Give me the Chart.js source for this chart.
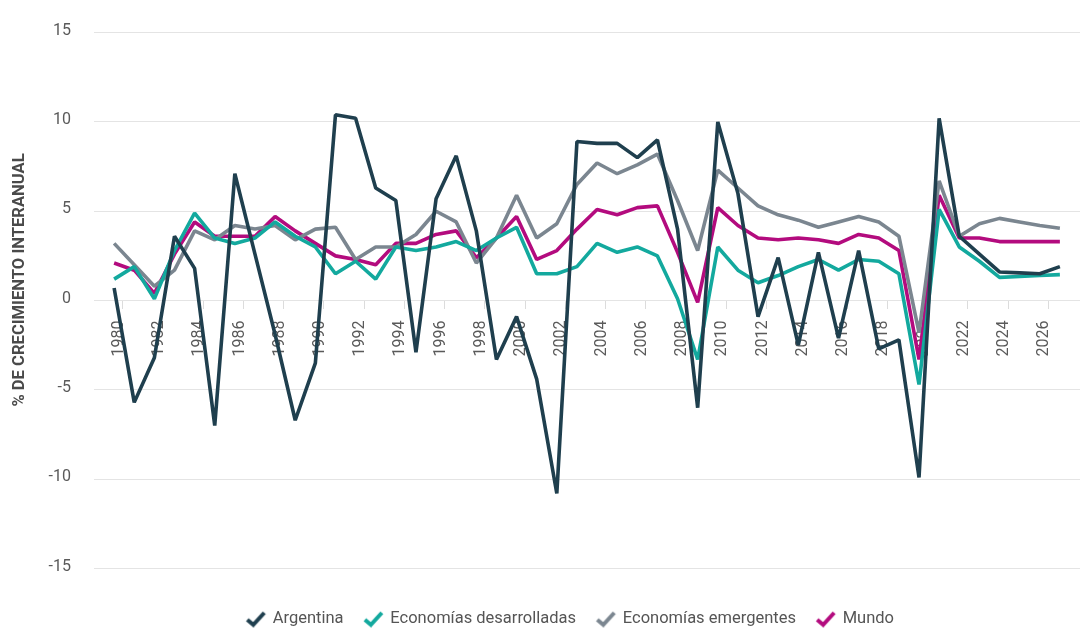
<!DOCTYPE html>
<html>
<head>
<meta charset="utf-8">
<script src="https://cdn.jsdelivr.net/npm/chart.js@4.4.1/dist/chart.umd.min.js"></script>
<style>
  html, body { margin: 0; padding: 0; background: #fff; }
  #wrap { width: 1083px; height: 628px; position: relative; }
</style>
</head>
<body>
<div id="wrap"><canvas id="chart"></canvas></div>
<script>
const years = [1980, 1981, 1982, 1983, 1984, 1985, 1986, 1987, 1988, 1989,
  1990, 1991, 1992, 1993, 1994, 1995, 1996, 1997, 1998, 1999,
  2000, 2001, 2002, 2003, 2004, 2005, 2006, 2007, 2008, 2009,
  2010, 2011, 2012, 2013, 2014, 2015, 2016, 2017, 2018, 2019,
  2020, 2021, 2022, 2023, 2024, 2025, 2026, 2027];

const tickYears = [1980, 1982, 1984, 1986, 1988, 1990, 1992, 1994, 1996, 1998,
  2000, 2002, 2004, 2006, 2008, 2010, 2012, 2014, 2016, 2018,
  2020, 2022, 2024, 2026];

const argentina = [0.7, -5.7, -3.2, 3.6, 1.8, -7.0, 7.1, 2.6, -1.9, -6.7,
  -3.5, 10.4, 10.2, 6.3, 5.6, -2.9, 5.7, 8.1, 3.9, -3.3,
  -0.9, -4.4, -10.8, 8.9, 8.8, 8.8, 8.0, 9.0, 4.0, -6.0,
  10.0, 6.0, -0.9, 2.4, -2.5, 2.7, -2.1, 2.8, -2.7, -2.2,
  -9.9, 10.2, 3.6, 2.6, 1.6, 1.55, 1.5, 1.9];

const desarrolladas = [1.2, 1.9, 0.1, 2.8, 4.9, 3.5, 3.2, 3.5, 4.4, 3.6,
  3.0, 1.5, 2.2, 1.2, 3.0, 2.8, 3.0, 3.3, 2.8, 3.5,
  4.1, 1.5, 1.5, 1.9, 3.2, 2.7, 3.0, 2.5, 0.1, -3.3,
  3.0, 1.7, 1.0, 1.4, 1.9, 2.3, 1.7, 2.3, 2.2, 1.5,
  -4.7, 5.1, 3.0, 2.2, 1.3, 1.35, 1.4, 1.45];

const emergentes = [3.2, 2.0, 0.8, 1.7, 3.9, 3.4, 4.2, 4.0, 4.2, 3.4,
  4.0, 4.1, 2.3, 3.0, 3.0, 3.7, 5.0, 4.4, 2.1, 3.5,
  5.9, 3.5, 4.3, 6.5, 7.7, 7.1, 7.6, 8.2, 5.6, 2.8,
  7.3, 6.3, 5.3, 4.8, 4.5, 4.1, 4.4, 4.7, 4.4, 3.6,
  -1.8, 6.7, 3.6, 4.3, 4.6, 4.4, 4.2, 4.05];

const mundo = [2.1, 1.7, 0.4, 2.6, 4.4, 3.6, 3.6, 3.6, 4.7, 3.9,
  3.2, 2.5, 2.3, 2.0, 3.2, 3.2, 3.7, 3.9, 2.4, 3.5,
  4.7, 2.3, 2.8, 4.0, 5.1, 4.8, 5.2, 5.3, 2.7, -0.1,
  5.2, 4.2, 3.5, 3.4, 3.5, 3.4, 3.2, 3.7, 3.5, 2.8,
  -3.3, 5.9, 3.5, 3.5, 3.3, 3.3, 3.3, 3.3];

const COLORS = {
  argentina: '#1f3f4e',
  desarrolladas: '#13a99e',
  emergentes: '#7b8690',
  mundo: '#b30b7e'
};

// little tick-shaped marker for the legend
function checkIcon(color) {
  const c = document.createElement('canvas');
  c.width = 22; c.height = 18;
  const g = c.getContext('2d');
  g.strokeStyle = color;
  g.lineWidth = 4;
  g.beginPath();
  g.moveTo(2, 10);
  g.lineTo(8, 15);
  g.lineTo(19, 3);
  g.stroke();
  return c;
}

function series(values) {
  return years.map((y, i) => ({ x: y, y: values[i] }));
}

function makeDataset(label, values, color) {
  return {
    label,
    data: series(values),
    borderColor: color,
    backgroundColor: color,
    borderWidth: 3.6,
    borderJoinStyle: 'bevel',
    pointRadius: 0,
    pointHoverRadius: 0,
    tension: 0,
    pointStyle: checkIcon(color)
  };
}

// nudge the legend down/right a bit, it sits lower than the default spot
const legendNudge = {
  id: 'legendNudge',
  afterLayout(chart) {
    const lg = chart.legend;
    if (!lg) return;
    lg.top += 20; lg.bottom += 20;
    lg.left += 31; lg.right += 31;
  }
};

const TICK_SHIFT = 0.43;
// the axis title sits a little above the middle of the plot
const yTitle = '\u00a0'.repeat(10) + '% DE CRECIMIENTO INTERANUAL';

new Chart(document.getElementById('chart'), {
  type: 'line',
  data: {
    datasets: [
      makeDataset('Argentina', argentina, COLORS.argentina),
      makeDataset('Economías desarrolladas', desarrolladas, COLORS.desarrolladas),
      makeDataset('Economías emergentes', emergentes, COLORS.emergentes),
      makeDataset('Mundo', mundo, COLORS.mundo)
    ]
  },
  plugins: [legendNudge],
  options: {
    responsive: true,
    maintainAspectRatio: false,
    animation: false,
    layout: { padding: { top: 12, right: 3, bottom: 11, left: 0 } },
    plugins: {
      tooltip: { enabled: false },
      legend: {
        position: 'bottom',
        labels: {
          usePointStyle: true,
          boxHeight: 18,
          padding: 22,
          color: '#555',
          font: { family: 'Roboto', size: 16.5 }
        }
      }
    },
    scales: {
      x: {
        type: 'linear',
        position: { y: 0 },
        min: 1979,
        max: 2028,
        afterBuildTicks: (scale) => {
          scale.ticks = tickYears.map(v => ({ value: v + TICK_SHIFT }));
        },
        grid: {
          drawOnChartArea: false,
          drawTicks: true,
          tickLength: 8,
          color: '#dcdcdc'
        },
        border: { display: false },
        ticks: {
          autoSkip: false,
          maxRotation: 90,
          minRotation: 90,
          padding: 12,
          labelOffset: -4,
          color: '#5a5a5a',
          font: { family: 'Roboto', size: 16 },
          callback: (v) => String(Math.round(v - TICK_SHIFT))
        }
      },
      y: {
        min: -15,
        max: 15,
        afterFit: (scale) => { scale.width = 94; },
        ticks: {
          stepSize: 5,
          padding: 23,
          labelOffset: -2,
          color: '#5a5a5a',
          font: { family: 'Roboto', size: 16 }
        },
        grid: { color: '#e4e4e4', lineWidth: 1, drawTicks: false },
        border: { display: false },
        title: {
          display: true,
          text: yTitle,
          color: '#4a4a4a',
          font: { family: 'Roboto', size: 16.6, weight: 'bold' },
          padding: { top: 10, bottom: 0 }
        }
      }
    }
  }
});
</script>
</body>
</html>
